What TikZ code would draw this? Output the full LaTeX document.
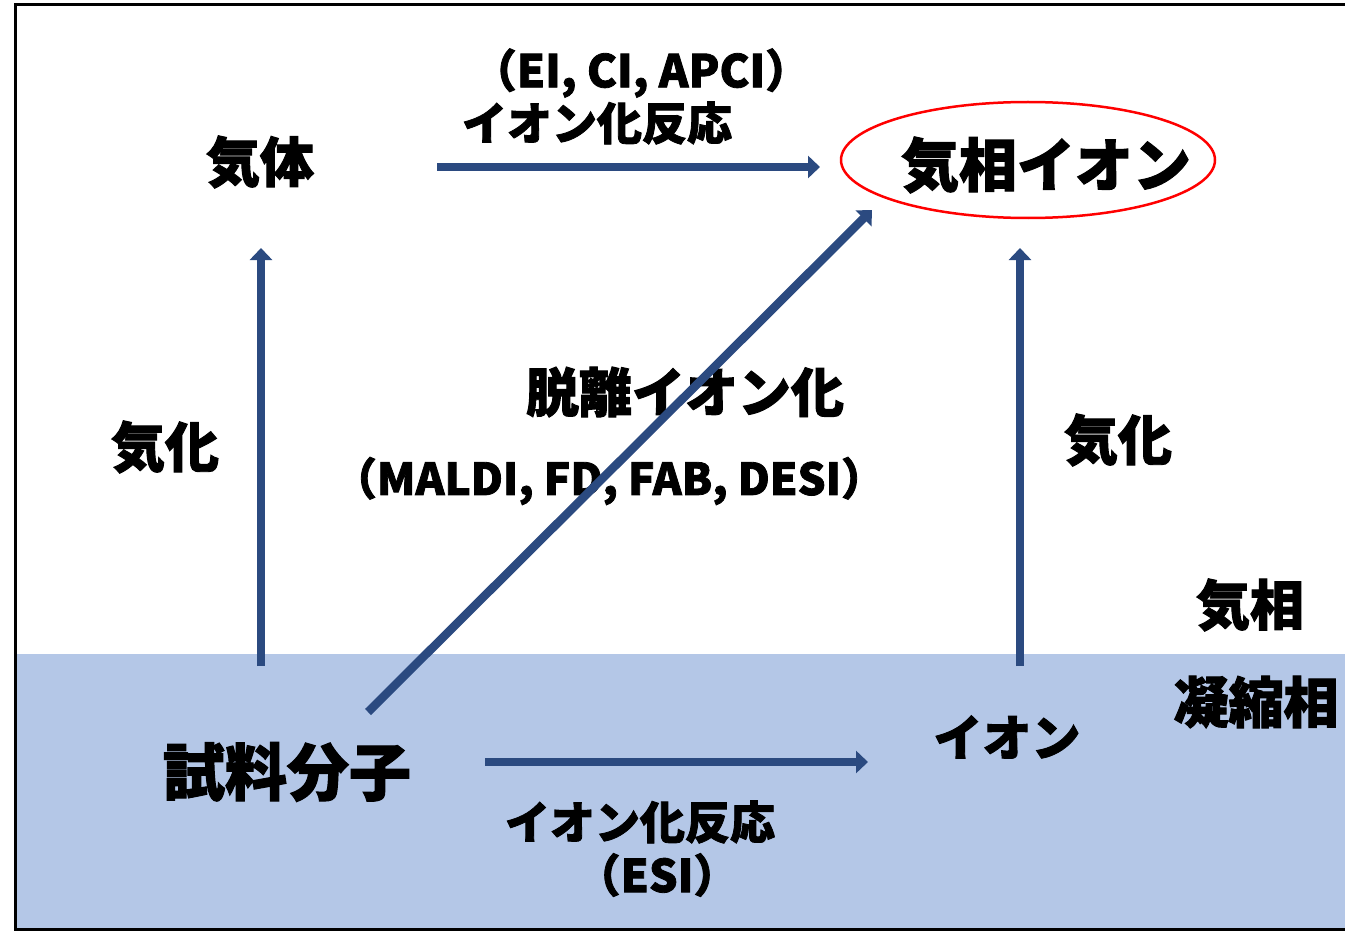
\documentclass[tikz,border=0pt]{standalone}
\usepackage{fontspec}
\newfontfamily\jp{Noto Sans CJK JP}[BoldFeatures={FakeBold=1.8}]
\usetikzlibrary{arrows.meta}
\definecolor{condblue}{HTML}{B4C7E7}
\definecolor{arrblue}{HTML}{2B4A80}
\definecolor{ellred}{HTML}{FF0000}
\tikzset{
  lbl/.style={font=\jp\bfseries, inner sep=0pt, text=black},
  arr/.style={draw=arrblue, line width=8.5pt, -{Triangle[length=12pt,width=22pt]}},
}
\newcommand{\fs}[1]{\fontsize{#1}{#1}\selectfont}
\begin{document}
\begin{tikzpicture}[x=1pt,y=-1pt]
\useasboundingbox (0,0) rectangle (1345,931);
% condensed phase
\fill[condblue] (15,654) rectangle (1345,929);
% frame
\draw[line width=3pt, black] (1360,5) -- (15,5) -- (15,929) -- (1360,929);
% labels
\node[lbl, font=\jp\bfseries\fs{54}] (gas) at (260,162) {気体};
\node[lbl, font=\jp\bfseries\fs{58}] (gion) at (1046,165) {気相イオン};
\draw[ellred, line width=2.5pt] (1028,160) ellipse [x radius=187, y radius=58];
\node[lbl, font=\jp\bfseries\fs{45}] (m1) at (641,73) {（EI, CI, APCI）};
\node[lbl, font=\jp\bfseries\fs{45}] (r1) at (597,123) {イオン化反応};
\node[lbl, font=\jp\bfseries\fs{54}] (vap1) at (165,447) {気化};
\node[lbl, font=\jp\bfseries\fs{53}] (des) at (685,392) {脱離イオン化};
\node[lbl, font=\jp\bfseries\fs{44}] (m2) at (609,481) {（MALDI, FD, FAB, DESI）};
\node[lbl, font=\jp\bfseries\fs{54}] (vap2) at (1118,440) {気化};
\node[lbl, font=\jp\bfseries\fs{54}] (gph) at (1250,605) {気相};
\node[lbl, font=\jp\bfseries\fs{55}] (cph) at (1256,702) {凝縮相};
\node[lbl, font=\jp\bfseries\fs{62}] (samp) at (287,772) {試料分子};
\node[lbl, font=\jp\bfseries\fs{49}] (ion) at (1007,737) {イオン};
\node[lbl, font=\jp\bfseries\fs{45}] (r2) at (640,822) {イオン化反応};
\node[lbl, font=\jp\bfseries\fs{45}] (m3) at (657,875) {（ESI）};
% arrow end points
\coordinate (a1s) at (437,167); \coordinate (a1e) at (820,167);
\coordinate (a2s) at (261,666); \coordinate (a2e) at (261,248);
\coordinate (a3s) at (368,712); \coordinate (a3e) at (872,210);
\coordinate (a4s) at (1020,666); \coordinate (a4e) at (1020,248);
\coordinate (a5s) at (485,762); \coordinate (a5e) at (868,762);
\draw[arr] (a1s) -- (a1e);
\draw[arr] (a2s) -- (a2e);
\draw[arr] (a3s) -- (a3e);
\draw[arr] (a4s) -- (a4e);
\draw[arr] (a5s) -- (a5e);
\end{tikzpicture}
\end{document}
